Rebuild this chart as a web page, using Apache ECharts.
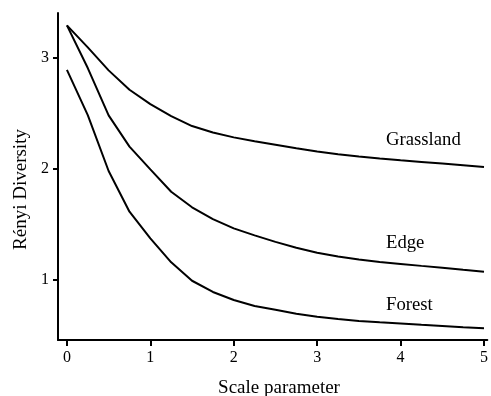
<!DOCTYPE html>
<html>
<head>
<meta charset="utf-8">
<script src="https://cdn.jsdelivr.net/npm/echarts@6/dist/echarts.min.js"></script>
<style>
html,body{margin:0;padding:0;background:#fff;}
#chart{width:491px;height:396px;}
</style>
</head>
<body>
<div id="chart"></div>
<script>
// Data
const scales = [0, 0.25, 0.5, 0.75, 1, 1.25, 1.5, 1.75, 2, 2.25, 2.5, 2.75, 3, 3.25, 3.5, 3.75, 4, 4.25, 4.5, 4.75, 5];
const grassland = [3.288, 3.09, 2.883, 2.708, 2.579, 2.471, 2.381, 2.323, 2.279, 2.244, 2.213, 2.181, 2.152, 2.127, 2.106, 2.089, 2.073, 2.058, 2.043, 2.028, 2.012];
const edge = [3.288, 2.904, 2.477, 2.196, 1.991, 1.789, 1.649, 1.543, 1.459, 1.396, 1.337, 1.285, 1.240, 1.205, 1.178, 1.157, 1.139, 1.121, 1.104, 1.086, 1.069];
const forest = [2.888, 2.48, 1.976, 1.609, 1.369, 1.153, 0.987, 0.886, 0.813, 0.759, 0.725, 0.690, 0.663, 0.642, 0.625, 0.612, 0.601, 0.590, 0.580, 0.569, 0.559];
const seriesNames = ['Grassland', 'Edge', 'Forest'];
const xTicks = [0, 1, 2, 3, 4, 5];
const yTicks = [1, 2, 3];
const xTitle = 'Scale parameter';
const yTitle = 'Rényi Diversity';

const FONT = '"Liberation Serif", "Times New Roman", serif';
const chart = echarts.init(document.getElementById('chart'), null, {renderer: 'canvas'});

function pairs(vals) { return scales.map((s, i) => [s, vals[i]]); }
const allSeries = [grassland, edge, forest];

const option = {
  animation: false,
  backgroundColor: '#fff',
  grid: {left: 58, top: 13, right: 0, bottom: 56, containLabel: false},
  xAxis: {
    type: 'value', min: -0.107, max: 5.04,
    splitLine: {show: false},
    axisLine: {onZero: false, lineStyle: {color: '#000', width: 2}},
    axisTick: {show: true, length: 6, lineStyle: {color: '#000', width: 2}, customValues: xTicks},
    axisLabel: {customValues: xTicks, margin: 10, color: '#000', fontFamily: FONT, fontSize: 16}
  },
  yAxis: {
    type: 'value', min: 0.453, max: 3.40,
    splitLine: {show: false},
    axisLine: {show: true, onZero: false, lineStyle: {color: '#000', width: 2}},
    axisTick: {show: true, length: 5, lineStyle: {color: '#000', width: 2}, customValues: yTicks},
    axisLabel: {customValues: yTicks, margin: 9, color: '#000', fontFamily: FONT, fontSize: 16}
  },
  series: allSeries.map((vals, i) => ({
    name: seriesNames[i],
    type: 'line',
    data: pairs(vals),
    showSymbol: false,
    smooth: false,
    lineStyle: {color: '#000', width: 2},
    emphasis: {disabled: true}
  })),
  graphic: [
    {type: 'text', left: 386, top: 131, style: {text: seriesNames[0], fill: '#000', font: '18.7px ' + FONT}},
    {type: 'text', left: 386, top: 234, style: {text: seriesNames[1], fill: '#000', font: '18.7px ' + FONT}},
    {type: 'text', left: 386, top: 296, style: {text: seriesNames[2], fill: '#000', font: '18.7px ' + FONT}},
    {type: 'text', x: 279, y: 388.5, style: {text: xTitle, fill: '#000', font: '19px ' + FONT, textAlign: 'center', textVerticalAlign: 'middle'}},
    {type: 'text', x: 21, y: 189.5, rotation: Math.PI / 2, style: {text: yTitle, fill: '#000', font: '19px ' + FONT, textAlign: 'center', textVerticalAlign: 'middle'}}
  ]
};
chart.setOption(option);
</script>
</body>
</html>
